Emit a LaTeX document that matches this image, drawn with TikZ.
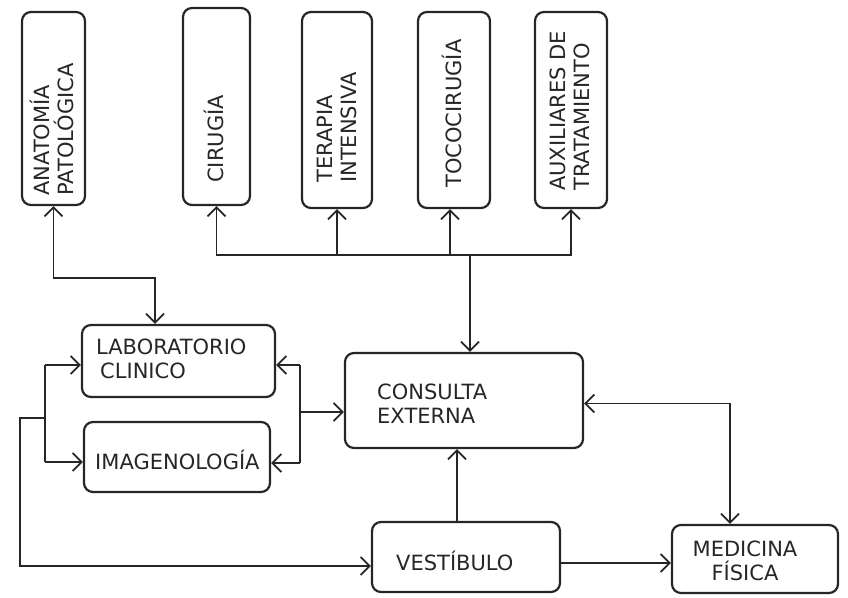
\documentclass[tikz,border=0pt]{standalone}
\usepackage{fontspec}
\setmainfont{DejaVu Sans}
\usetikzlibrary{arrows.meta}
\definecolor{ink}{HTML}{262626}
\begin{document}
\begin{tikzpicture}[x=1pt,y=-1pt,
  box/.style={draw=ink, line width=2.2pt, rounded corners=9pt, inner sep=0pt},
  txt/.style={text=ink, inner sep=0pt, font=\fontsize{21}{24}\selectfont, align=left},
  vtxt/.style={txt, rotate=90, anchor=west},
  conn/.style={draw=ink, line width=1.8pt},
  tip/.tip={Straight Barb[length=9pt,width=18pt,line width=1.8pt]},
  arr/.style={conn, -tip},
  arrb/.style={conn, tip-tip}
]
\useasboundingbox (0,0) rectangle (848,597);
% top boxes
\node[box, minimum width=63pt, minimum height=193pt] (anat) at (53.5,108.5) {};
\node[box, minimum width=67pt, minimum height=197pt] (ciru) at (216.5,106.5) {};
\node[box, minimum width=70pt, minimum height=196pt] (tera) at (337,110) {};
\node[box, minimum width=72pt, minimum height=196pt] (toco) at (454,110) {};
\node[box, minimum width=72pt, minimum height=196pt] (auxi) at (571,110) {};
% middle boxes
\node[box, minimum width=193pt, minimum height=72pt] (lab) at (178.5,361) {};
\node[box, minimum width=186pt, minimum height=70pt] (imag) at (177,457) {};
\node[box, minimum width=238pt, minimum height=95pt] (cons) at (464,400.5) {};
\node[box, minimum width=188pt, minimum height=70pt] (vest) at (466,557) {};
\node[box, minimum width=166pt, minimum height=68pt] (medi) at (755,559) {};
% texts
\node[vtxt] (anatT) at (52,196) {ANATOMÍA\\PATOLÓGICA};
\node[vtxt] (ciruT) at (214,183) {CIRUGÍA};
\node[vtxt] (teraT) at (337,183) {TERAPIA\\INTENSIVA};
\node[vtxt] (tocoT) at (452,188) {TOCOCIRUGÍA};
\node[vtxt] (auxiT) at (570,191) {AUXILIARES DE\\TRATAMIENTO};
\node[txt, anchor=west] (labT) at (96,359) {LABORATORIO\\\hspace*{4pt}CLINICO};
\node[txt, anchor=west] (imagT) at (95,460) {IMAGENOLOGÍA};
\node[txt, anchor=west] (consT) at (377,404) {CONSULTA\\EXTERNA};
\node[txt, anchor=west] (vestT) at (396,561) {VESTÍBULO};
\node[txt, align=center] (mediT) at (745,561) {MEDICINA\\FÍSICA};
% anatomia <-> laboratorio
\draw[arrb] (anat.south) -- ++(0,72) -| ([xshift=-23.5pt]lab.north);
% top bus
\coordinate (j) at (470,255);
\draw[arr] (j) -- (j |- cons.north);
\draw[arr] (j) -| (auxi.south);
\draw[arr] (j) -| (ciru.south);
\draw[arr] (tera.south |- j) -- (tera.south);
\draw[arr] ([xshift=-4pt]toco.south |- j) -- ([xshift=-4pt]toco.south);
% left bus
\coordinate (la) at (45,0);
\coordinate (lbr) at (45,418);
\draw[conn] ([yshift=-4pt]lab.west -| la) -- ([yshift=-5pt]imag.west -| la);
\draw[arr] ([yshift=-4pt]lab.west -| la) -- ([yshift=-4pt]lab.west);
\draw[arr] ([yshift=-5pt]imag.west -| la) -- ([yshift=-5pt]imag.west);
\draw[arr] (lbr) -- (20,418) -- (20,566) -- ([yshift=-9pt]vest.west);
% right bus
\coordinate (ra) at (300,0);
\draw[conn] ([yshift=-4pt]lab.east -| ra) -- ([yshift=-6pt]imag.east -| ra);
\draw[arr] ([yshift=-4pt]lab.east -| ra) -- ([yshift=-4pt]lab.east);
\draw[arr] ([yshift=-6pt]imag.east -| ra) -- ([yshift=-6pt]imag.east);
\draw[arr] (300,412) -- ([yshift=-11.5pt]cons.west);
% vestibulo connections
\draw[arr] ([xshift=-9pt]vest.north) -- ([xshift=-9pt]vest.north |- cons.south);
\draw[arr] ([yshift=-6pt]vest.east) -- ([yshift=-6pt]vest.east -| medi.west);
\draw[arrb] ([yshift=-3pt]cons.east) -| ([xshift=-25pt]medi.north);
\end{tikzpicture}
\end{document}
